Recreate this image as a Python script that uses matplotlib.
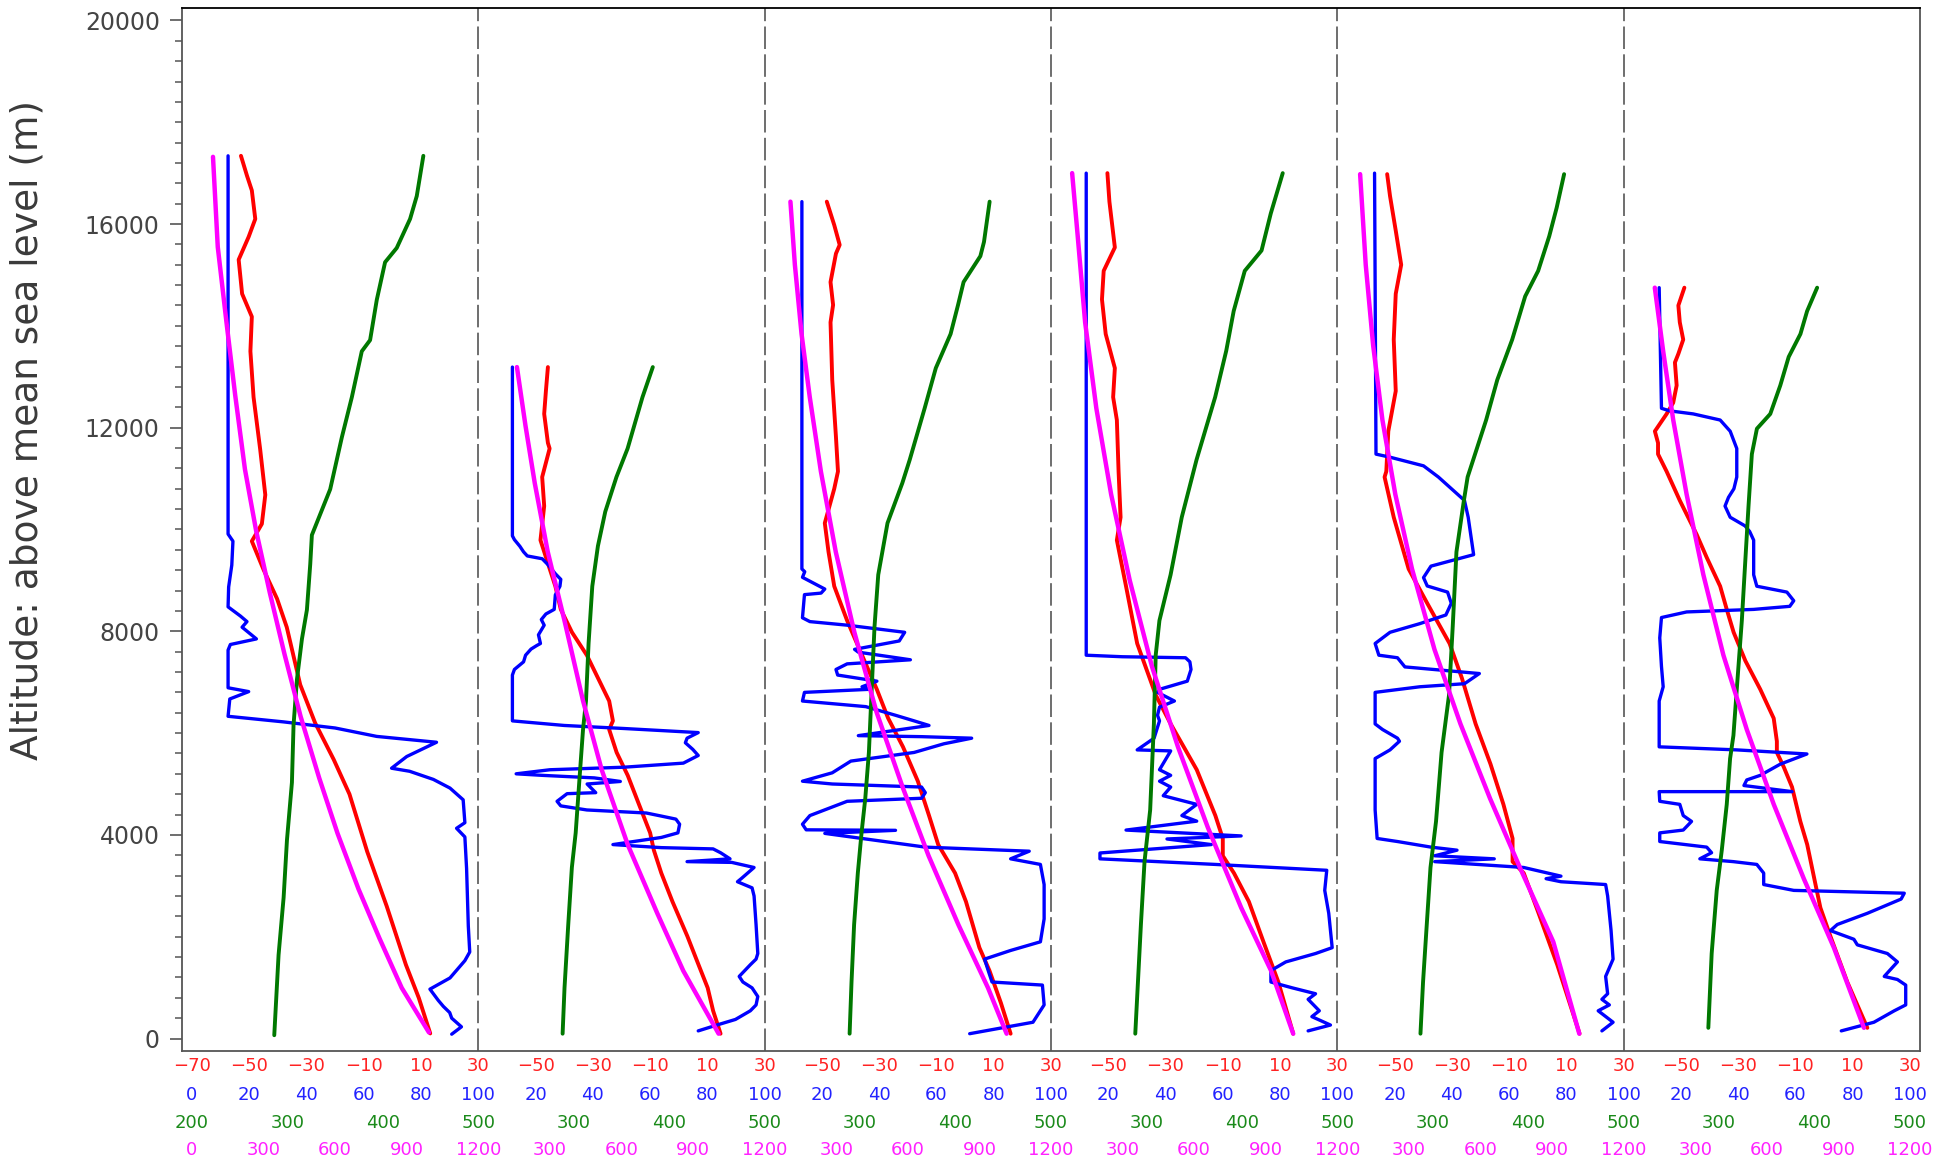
import numpy as np
import matplotlib.pyplot as plt

# axis ranges of the four scales inside one panel
T_RANGE = (-70, 30)      # temperature (C)
RH_RANGE = (0, 100)      # relative humidity (%)
TH_RANGE = (200, 500)    # potential temperature (K)
P_RANGE = (0, 1200)      # pressure (hPa)

# tick labels under each panel
T_TICKS = [-70, -50, -30, -10, 10, 30]
RH_TICKS = [0, 20, 40, 60, 80, 100]
TH_TICKS = [200, 300, 400, 500]
P_TICKS = [0, 300, 600, 900, 1200]

# ---- panel 1 : (altitude m, value) ----
temp_1 = [(17340, -52.9), (16950, -50.8), (16660, -49.1), (16100, -47.9), (15750, -50.2), (15300, -53.7),
          (14630, -52.5), (14180, -49.1), (13500, -49.6), (12600, -48.5), (11580, -46.2), (10680, -44.4),
          (10110, -45.6), (9770, -49.1), (9210, -45.0), (8640, -40.3), (8080, -36.9), (6950, -32.2),
          (6200, -27.0), (5480, -20.5), (4800, -15.0), (3670, -8.8), (2600, -2.0), (1450, 4.7),
          (800, 9.2), (100, 13.2)]
rh_1 = [(17340, 12.6), (9910, 12.6), (9770, 14.3), (9300, 13.9), (8870, 12.8), (8480, 12.6), (8300, 16.9),
        (8190, 19.2), (8080, 17.5), (7850, 22.5), (7740, 13.4), (7630, 12.6), (6890, 12.6), (6815, 19.8),
        (6670, 13.2), (6330, 12.6), (6220, 32), (6100, 50), (5935, 64.5), (5820, 85.4), (5540, 75),
        (5310, 69.7), (5250, 76), (5090, 84.3), (4920, 90.1), (4690, 94.7), (4240, 95.3), (4130, 92.4),
        (3960, 95.3), (3340, 95.9), (2210, 96.5), (1700, 97), (1530, 95.3), (1190, 90.1), (970, 83.1),
        (750, 86), (630, 87.8), (510, 90), (400, 90.7), (230, 94.1), (85, 90.7)]
theta_1 = [(17340, 442.4), (16550, 435.5), (16100, 428.5), (15530, 414.5), (15250, 402.3), (14510, 393.6),
           (13720, 386.6), (13500, 377.9), (12600, 367.5), (11810, 357), (10790, 344.8), (9890, 325.6),
           (9320, 323.9), (8420, 320.4), (7850, 315.2), (7060, 310), (6160, 306.4), (5030, 304.7),
           (3900, 299.5), (2770, 296), (1640, 290.7), (65, 286.2)]
pres_1 = [(17320, 88), (15550, 108), (14050, 145), (12640, 181), (11180, 222), (9970, 269), (8760, 326),
          (7545, 388), (6330, 455), (5120, 533), (4030, 610), (2935, 698), (1965, 786), (995, 879), (120, 993)]

# ---- panel 2 ----
temp_2 = [(13190, -45.7), (12720, -46.4), (12270, -47.0), (11700, -45.7), (11590, -45.1), (11030, -47.7),
          (10460, -47.0), (9790, -48.3), (9335, -45.7), (8885, -43.1), (8430, -41.2), (7980, -37.3),
          (7530, -32.1), (7080, -28.2), (6630, -24.3), (6240, -23.0), (6070, -24.3), (5620, -21.7),
          (5165, -17.8), (4600, -13.9), (4040, -10.0), (3700, -8.7), (3250, -6.1), (2690, -2.2),
          (2010, 3.0), (1450, 6.9), (995, 10.1), (545, 12.0), (95, 14.6)]
rh_2 = [(13190, 11.9), (9875, 11.9), (9800, 12.6), (9670, 14.5), (9560, 15.8), (9480, 17.1), (9425, 22.3),
        (9310, 24.3), (9130, 26.9), (9020, 28.8), (8885, 28.5), (8715, 26.9), (8430, 26.5), (8340, 23.6),
        (8230, 22), (8120, 23), (7930, 21), (7760, 21.7), (7720, 20.4), (7650, 18.4), (7530, 16.5),
        (7400, 15.8), (7250, 12.6), (7140, 11.9), (6240, 11.9), (6150, 30), (6090, 50.9), (6010, 76.8),
        (5900, 72.9), (5810, 72.3), (5680, 74.9), (5560, 76.8), (5410, 71.6), (5330, 50.9), (5280, 25),
        (5200, 13.2), (5170, 22.3), (5120, 40.5), (5050, 49.6), (5000, 38), (4830, 41), (4810, 31),
        (4660, 27.5), (4570, 28.8), (4490, 37.9), (4430, 58.7), (4370, 63.9), (4310, 69), (4210, 70.3),
        (4040, 69.7), (3950, 63.9), (3810, 47), (3750, 63.9), (3725, 82), (3650, 84.6), (3530, 87.9),
        (3475, 72.9), (3460, 88.5), (3360, 96.3), (3140, 91.8), (3080, 90.5), (2960, 95.6), (2800, 96.3),
        (2235, 97), (1670, 97.6), (1560, 97), (1450, 95), (1220, 91.1), (1110, 92.4), (995, 95.6),
        (825, 97.6), (660, 97), (545, 95), (375, 89.8), (265, 83.3), (150, 76.8)]
theta_2 = [(13190, 382.8), (12600, 372), (11590, 356.4), (11030, 344.7), (10350, 333), (9675, 325.3),
           (8885, 319.4), (7760, 315.5), (6630, 312.8), (6070, 309.7), (5055, 305.8), (4040, 302),
           (3360, 298), (2235, 294.2), (995, 290.3), (95, 288.3)]
pres_2 = [(13190, 161.8), (12040, 197.6), (10910, 236.5), (9560, 291), (8210, 361), (6630, 439),
          (5280, 517), (3810, 626), (2460, 750), (1330, 859), (95, 1007)]

# ---- panel 3 ----
temp_3 = [(16440, -48.3), (15980, -45.7), (15590, -43.8), (15420, -45.1), (14860, -47.0), (14410, -46.1),
          (14070, -47.0), (12940, -46.4), (11815, -45.1), (11140, -44.4), (10800, -45.7), (10125, -49.0),
          (9560, -47.7), (8885, -45.7), (8210, -41.2), (7530, -36.0), (6855, -30.8), (6295, -26.9),
          (5730, -21.7), (5055, -16.5), (4380, -12.6), (3810, -9.4), (3250, -3.5), (2690, 0.3),
          (1785, 5.0), (1335, 8.5), (700, 12.5), (95, 15.9)]
rh_3 = [(16440, 13.0), (9225, 13.0), (9170, 14), (9060, 13.2), (8830, 21), (8750, 19.7), (8720, 13.9),
        (8265, 13.2), (8190, 15.8), (8120, 28.8), (7980, 48.9), (7810, 47), (7645, 31.4), (7590, 32.7),
        (7440, 50.9), (7360, 28.8), (7250, 24.9), (7140, 25.5), (7020, 39.2), (6910, 34), (6860, 36.6),
        (6800, 13.9), (6630, 13.2), (6520, 35.3), (6350, 45.7), (6240, 52.2), (6150, 57.4), (5950, 32.7),
        (5930, 54.8), (5900, 72.3), (5790, 62.6), (5620, 52.2), (5450, 30.1), (5220, 23.6), (5055, 13.2),
        (5000, 23.6), (4940, 54.8), (4830, 56.1), (4720, 54.8), (4660, 28.8), (4380, 15.8), (4210, 13.2),
        (4100, 14.5), (4090, 45.7), (4030, 21), (3760, 56.1), (3680, 92.4), (3530, 85.9), (3420, 96.3),
        (3025, 97.6), (2350, 97.6), (1900, 96.3), (1730, 85.9), (1560, 76.8), (1330, 78.1), (1110, 79.4),
        (1050, 97), (660, 97.6), (320, 93.7), (95, 71.6)]
theta_3 = [(16440, 435.7), (15650, 429.8), (15370, 426), (14860, 408.4), (14410, 402.6), (13840, 394.8),
           (13170, 379.3), (12380, 367.6), (11370, 352), (10910, 344.2), (10125, 328.7), (9110, 319),
           (8095, 315.1), (6970, 312.4), (5620, 309.2), (4715, 305.4), (4040, 301.5), (3250, 297.6),
           (2235, 293.7), (1110, 291), (95, 289)]
pres_3 = [(16440, 108), (15200, 126.6), (13840, 154.6), (12600, 189), (11140, 235.6), (9560, 298),
          (7980, 376), (6410, 469), (4940, 578), (3590, 687), (2235, 812), (995, 936), (95, 1014)]

# ---- panel 4 ----
temp_4 = [(17000, -50.3), (16440, -49.6), (15540, -47.7), (15080, -51.6), (14520, -52.2), (13840, -50.9),
          (13170, -47.7), (12600, -48.3), (12150, -47.0), (11140, -46.4), (10240, -45.7), (9790, -47.0),
          (8885, -43.8), (7760, -39.9), (6745, -33.4), (6180, -28.2), (5280, -19.1), (4380, -12.6),
          (3930, -10.0), (3590, -10.0), (3250, -6.1), (2690, -0.9), (1900, 4.2), (1110, 9.4), (95, 14.6)]
rh_4 = [(17000, 12.3), (7530, 12.3), (7500, 24.9), (7480, 47), (7400, 48.5), (7250, 48.9), (7020, 47.6),
        (6860, 37.9), (6800, 37.2), (6630, 43.1), (6510, 37.9), (6350, 37.2), (6240, 37.9), (5900, 36),
        (5670, 30.1), (5650, 41.8), (5280, 37.9), (5170, 41.8), (5055, 37.9), (4940, 41.8), (4770, 39.2),
        (4600, 50.9), (4380, 45.7), (4270, 50.9), (4095, 26.2), (3980, 66.4), (3920, 40.5), (3810, 56),
        (3645, 17.1), (3530, 17.1), (3420, 57.4), (3305, 96.3), (2910, 95.6), (2460, 97), (1785, 98.2),
        (1670, 92.4), (1505, 82), (1335, 76.8), (1110, 76.8), (995, 84.3), (880, 92.4), (770, 89.8),
        (545, 93.7), (430, 91.1), (265, 97.6), (150, 89.8)]
theta_4 = [(17000, 442.8), (16210, 430.3), (15480, 420.6), (15080, 403), (14290, 391.4), (13510, 383.6),
           (12600, 372), (11370, 352.5), (10240, 337), (9110, 325.3), (8210, 313.6), (7530, 309.7),
           (6180, 307.8), (4490, 303.9), (3480, 298), (2240, 294.2), (95, 288.3)]
pres_4 = [(17000, 88.6), (15760, 112), (14070, 143), (12380, 190), (10690, 252), (9000, 330), (7310, 423),
          (5730, 532), (4150, 657), (2570, 797), (1335, 922), (95, 1015)]

# ---- panel 5 ----
temp_5 = [(16980, -52.6), (16550, -51.6), (15870, -49.6), (15200, -47.7), (14630, -49.6), (13730, -50.3),
          (12720, -49.6), (11930, -52.2), (11140, -52.9), (11030, -53.5), (10240, -50.3), (9225, -45.1),
          (8550, -38.6), (7760, -30.8), (7080, -26.5), (6180, -21.7), (5390, -16.5), (4600, -12.0),
          (3930, -8.8), (3475, -8.8), (3250, -4.9), (2460, 0.3), (1450, 6.8), (95, 14.6)]
rh_5 = [(17000, 13), (11480, 13.5), (11420, 18.4), (11250, 30.1), (11030, 35.3), (10570, 44.4),
        (10240, 45.7), (9505, 47.6), (9280, 32.7), (9055, 30.1), (8890, 31.4), (8770, 38.5), (8550, 39.8),
        (8320, 37.9), (8150, 28.8), (7980, 18.4), (7760, 13.2), (7530, 14.5), (7480, 21), (7300, 23.6),
        (7170, 49.6), (6970, 44.4), (6910, 28.8), (6800, 13.2), (6180, 13.2), (6070, 15.8), (5900, 21),
        (5840, 21.7), (5670, 18.4), (5500, 13.2), (4490, 13.2), (3930, 13.9), (3870, 21), (3760, 32.7),
        (3700, 41.8), (3590, 34), (3530, 54.8), (3475, 34), (3360, 65.1), (3190, 78.1), (3140, 72.9),
        (3080, 78.1), (3025, 93.7), (2800, 94.4), (2120, 95.6), (1560, 96.3), (1220, 93.7), (880, 94.4),
        (770, 92.4), (660, 95), (545, 91.1), (320, 96.3), (150, 92.4)]
theta_5 = [(16980, 437.6), (16320, 429.8), (15760, 422), (15080, 410.4), (14580, 396.8), (13730, 383.2),
           (12940, 367.6), (12150, 355.9), (11700, 348.1), (11030, 336.5), (10570, 332.6), (9560, 324.8),
           (8095, 320.9), (6745, 317), (5620, 309.2), (4265, 303.4), (3360, 297.6), (2240, 293.7),
           (1110, 289.8), (95, 287.1)]
pres_5 = [(16980, 95.5), (15200, 119), (13620, 150), (12150, 189), (10690, 243), (9225, 313), (7645, 407),
          (6180, 516), (4715, 640), (3360, 765), (1900, 905), (95, 1014)]

# ---- panel 6 ----
temp_6 = [(14750, -48.8), (14400, -50.9), (14070, -50.4), (13730, -49.2), (13450, -50.9), (13280, -52.1),
          (12830, -51.5), (12490, -52.7), (12270, -55.0), (11930, -59.1), (11700, -58.0), (11480, -58.0),
          (11140, -55.0), (10570, -50.4), (9900, -44.5), (9450, -41.0), (8885, -36.3), (8430, -34.0),
          (7980, -31.6), (7420, -27.5), (6860, -22.3), (6290, -17.6), (5840, -16.5), (5620, -16.5),
          (5335, -14.1), (4940, -11.2), (4265, -8.3), (3810, -5.9), (3025, -3.0), (2570, -1.3),
          (2010, 2.2), (1110, 8.1), (210, 15.1)]
rh_6 = [(14750, 12.4), (12380, 13.2), (12330, 16.1), (12270, 24.3), (12150, 33.7), (11930, 37.2),
        (11590, 39.5), (11030, 39.5), (10800, 38.5), (10630, 36.6), (10460, 35.4), (10240, 37.2),
        (10070, 42.4), (9960, 44), (9790, 45.4), (9110, 45.4), (8885, 46.5), (8770, 57), (8600, 59.4),
        (8490, 58), (8430, 45.4), (8380, 22), (8270, 13.2), (7870, 12.6), (7310, 13.2), (6910, 13.8),
        (6630, 12.4), (5730, 12.4), (5670, 39.5), (5590, 64), (5390, 54.7), (5170, 47.7), (5080, 43),
        (4970, 42), (4850, 58.8), (4850, 12.4), (4660, 12.6), (4600, 19.6), (4380, 20.8), (4265, 23.7),
        (4095, 20.8), (4040, 12.6), (3870, 12.6), (3760, 29), (3650, 30.7), (3530, 26.6), (3475, 38.3),
        (3420, 46.5), (3250, 48.9), (3025, 48.9), (2910, 59.4), (2855, 98), (2740, 96.9), (2460, 85.1),
        (2240, 74.6), (2120, 72.2), (1950, 80.4), (1840, 81.6), (1670, 92.1), (1505, 95.6), (1220, 91),
        (1160, 95.6), (1050, 98.5), (660, 98.5), (545, 94.5), (320, 87.4), (150, 76)]
theta_6 = [(14750, 402.7), (14290, 392.2), (13840, 385.2), (13390, 372.9), (12830, 364.1), (12270, 353.6),
           (11980, 339.6), (11480, 334.3), (10460, 330.8), (9340, 327.3), (8210, 323.8), (6860, 318.5),
           (5955, 315), (5500, 311.5), (4600, 308), (3700, 302.8), (2910, 297.5), (1670, 292.2), (210, 288.7)]
pres_6 = [(14750, 130.5), (13500, 165.6), (12150, 207.7), (10690, 263.8), (9110, 334), (7530, 418),
          (6070, 516), (4600, 629), (3140, 755), (1785, 881), (210, 1007)]

temps = [temp_1, temp_2, temp_3, temp_4, temp_5, temp_6]
rhs = [rh_1, rh_2, rh_3, rh_4, rh_5, rh_6]
thetas = [theta_1, theta_2, theta_3, theta_4, theta_5, theta_6]
press = [pres_1, pres_2, pres_3, pres_4, pres_5, pres_6]

RED, BLUE, GREEN, MAG = '#ff0000', '#0000ff', '#007800', '#ff00ff'


def to_x(panel, v, rng):
    # position of a value inside its panel (panel i spans x = i .. i+1)
    return panel + (np.asarray(v, dtype=float) - rng[0]) / (rng[1] - rng[0])


def draw(ax, panel, prof, rng, color, lw, z):
    arr = np.array(prof, dtype=float)
    ax.plot(to_x(panel, arr[:, 1], rng), arr[:, 0], color=color, lw=lw, zorder=z,
            solid_joinstyle='round', solid_capstyle='round')


fig = plt.figure(figsize=(19.36, 11.62), dpi=100)
ax = fig.add_axes([182 / 1936, 111 / 1162, 1738 / 1936, 1042.7 / 1162])

for i in range(6):
    draw(ax, i, temps[i], T_RANGE, RED, 2.8, 3)
    draw(ax, i, rhs[i], RH_RANGE, BLUE, 2.4, 4)
    draw(ax, i, thetas[i], TH_RANGE, GREEN, 2.8, 5)
    draw(ax, i, press[i], P_RANGE, MAG, 3.2, 6)

for k in range(1, 6):
    ax.axvline(k, color='#555555', lw=1.2, ls=(0, (13.5, 3.2)), zorder=1)

ax.set_xlim(-0.0349, 6.0349)
ax.set_ylim(-245, 20238)
ax.set_xticks([])
ax.set_yticks(np.arange(0, 20001, 4000))
ax.set_yticks(np.arange(0, 20001, 400), minor=True)
ax.tick_params(axis='y', which='major', direction='out', length=9, width=1.2, color='#555555',
               labelsize=17, labelcolor='#444444', pad=7)
ax.tick_params(axis='y', which='minor', direction='out', length=5, width=1.1, color='#555555')
for s in ['left', 'bottom', 'right']:
    ax.spines[s].set_color('#555555')
    ax.spines[s].set_linewidth(1.3)
ax.spines['top'].set_color('black')
ax.spines['top'].set_linewidth(1.3)

# four rows of tick labels under the panels
rows = [(T_TICKS, T_RANGE, '#ff2222', 10.6),
        (RH_TICKS, RH_RANGE, '#2222ff', 31.6),
        (TH_TICKS, TH_RANGE, '#1a8a1a', 51.9),
        (P_TICKS, P_RANGE, '#ff22ff', 71.4)]
for ticks, rng, col, off in rows:
    for i in range(6):
        for t in ticks:
            if i > 0 and t == ticks[0]:
                continue
            ax.annotate(str(t).replace('-', '\u2212'), xy=(to_x(i, t, rng), 0),
                        xycoords=ax.get_xaxis_transform(), xytext=(0, -off),
                        textcoords='offset points', ha='center', va='center',
                        color=col, fontsize=13, annotation_clip=False)

fig.text(28 / 1936, 1 - 430 / 1162, 'Altitude: above mean sea level (m)', rotation=90,
         ha='center', va='center', fontsize=27, color='#3a3a3a')

fig.savefig('out.png', dpi=100)
